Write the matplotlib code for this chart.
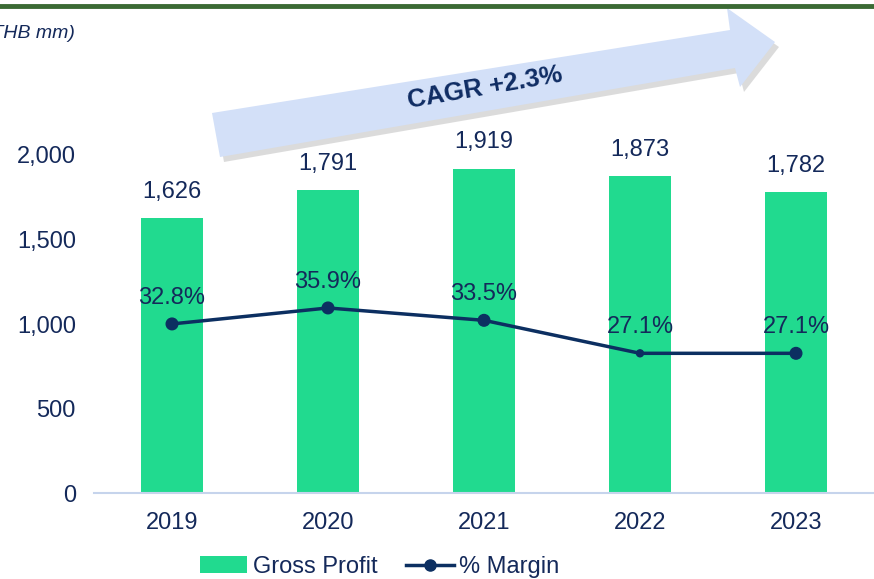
import numpy as np
import matplotlib
matplotlib.use("Agg")
import matplotlib.pyplot as plt
from matplotlib.patches import Polygon
from matplotlib.lines import Line2D
from matplotlib.patches import Patch

years = ["2019", "2020", "2021", "2022", "2023"]
gross_profit = [1626, 1791, 1919, 1873, 1782]
margin = [32.8, 35.9, 33.5, 27.1, 27.1]
marker_sizes = [70, 70, 70, 25, 70]
y_ticks = [0, 500, 1000, 1500, 2000]

navy = "#14295a"
line_col = "#0c2f61"
green = "#21da8f"
fs = 17

W, H = 874, 579
fig = plt.figure(figsize=(W / 100, H / 100), dpi=100)
plt.rcParams['font.family'] = ['Liberation Sans', 'DejaVu Sans']


def fx(px):
    return px / W


def fy(py):
    return 1 - py / H


# axes placed by pixel: zero line at y=493, 2000 at y=155
ymax = 2000 * (493 - 100) / (493 - 155)
ax = fig.add_axes([fx(94), fy(493), 1 - fx(94), fy(100) - fy(493)])
x = np.arange(len(years))
ax.bar(x, gross_profit, width=0.4, color=green, zorder=2)
ax.set_xlim(-0.5, len(years) - 0.5)
ax.set_ylim(0, ymax)
ax.set_yticks(y_ticks)
ax.set_yticklabels([f"{v:,}" for v in y_ticks])
ax.set_xticks(x)
ax.set_xticklabels(years)
ax.tick_params(length=0, labelsize=fs, labelcolor=navy)
ax.tick_params(axis="x", pad=14)
ax.tick_params(axis="y", pad=13)
for s in ["top", "right", "left"]:
    ax.spines[s].set_visible(False)
ax.spines["bottom"].set_color("#c6d4ec")
ax.spines["bottom"].set_linewidth(1.5)

for xi, v in zip(x, gross_profit):
    ax.annotate(f"{v:,}", (xi, v), xytext=(0, 11), textcoords="offset points",
                ha="center", va="bottom", fontsize=fs, color=navy)

# margin on secondary scale
ax2 = ax.twinx()
ax2.set_ylim(0, ymax / 30.5)
ax2.axis("off")
ax2.plot(x, margin, color=line_col, lw=2.5, zorder=3)
ax2.scatter(x, margin, s=marker_sizes, color=line_col, zorder=4)
for xi, m in zip(x, margin):
    ax2.annotate(f"{m:.1f}%", (xi, m), xytext=(0, 11), textcoords="offset points",
                 ha="center", va="bottom", fontsize=fs, color=navy)

# top rule
fig.add_artist(Line2D([0, 1], [fy(6), fy(6)], color="#3b6a34", lw=3.5))

fig.text(fx(-15), fy(33), "(THB mm)", fontsize=14, style="italic",
         color=navy, ha="left", va="center")

# CAGR arrow
arrow_px = [(212, 113), (730, 30), (727, 8), (775, 42), (740, 87),
            (735, 68), (220, 157)]
shadow = Polygon([(fx(px + 4), fy(py + 5)) for px, py in arrow_px],
                 closed=True, facecolor="#9a9a9a", edgecolor="none", alpha=0.35)
fig.add_artist(shadow)
arrow = Polygon([(fx(px), fy(py)) for px, py in arrow_px], closed=True,
                facecolor="#d3e0f8", edgecolor="none")
fig.add_artist(arrow)
fig.text(fx(485), fy(88), "CAGR +2.3%", fontsize=18.5, fontweight="bold",
         color="#0f2c63", rotation=9.8, ha="center", va="center")

handles = [Patch(facecolor=green),
           Line2D([0], [0], color=line_col, lw=2.5, marker="o", markersize=8)]
fig.legend(handles, ["Gross Profit", "% Margin"], loc="center",
           bbox_to_anchor=(fx(380), fy(567)), ncol=2, frameon=False,
           fontsize=fs, labelcolor=navy, handlelength=2.0, columnspacing=1.2,
           handletextpad=0.25)

fig.savefig("out.png", dpi=100)
